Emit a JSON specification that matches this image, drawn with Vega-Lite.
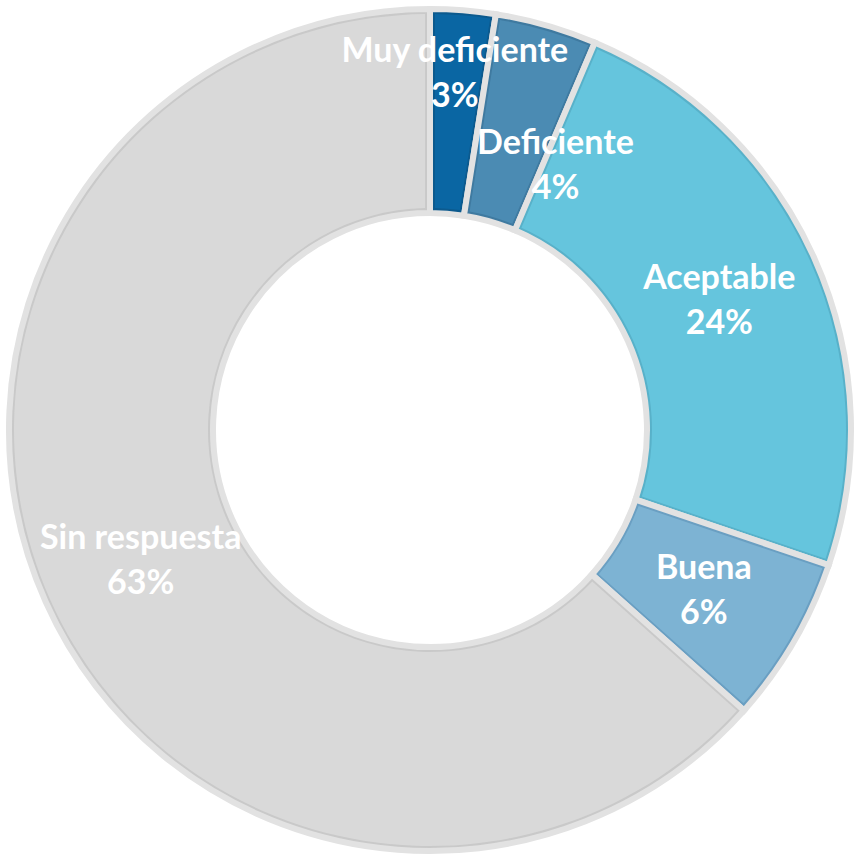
{
  "$schema": "https://vega.github.io/schema/vega-lite/v6.json",
  "width": 855,
  "height": 855,
  "autosize": {"type": "fit", "contains": "padding"},
  "padding": {"left": 5, "top": 5, "right": 0, "bottom": 0},
  "background": "white",
  "view": {"stroke": null},
  "data": {
    "values": [
      {"cat": "Muy deficiente", "pct": 2.5, "label": "Muy deficiente\n3%", "orden": 1},
      {"cat": "Deficiente", "pct": 3.9, "label": "Deficiente\n4%", "orden": 2},
      {"cat": "Aceptable", "pct": 23.8, "label": "Aceptable\n24%", "orden": 3},
      {"cat": "Buena", "pct": 6.4, "label": "Buena\n6%", "orden": 4},
      {"cat": "Sin respuesta", "pct": 63.4, "label": "Sin respuesta\n63%", "orden": 5}
    ]
  },
  "encoding": {
    "theta": {"field": "pct", "type": "quantitative", "stack": true},
    "order": {"field": "orden", "type": "quantitative"}
  },
  "resolve": {"scale": {"color": "independent"}},
  "layer": [
    {
      "mark": {"type": "arc", "outerRadius": 421, "innerRadius": 217, "stroke": "#e2e2e2", "strokeWidth": 6},
      "encoding": {
        "color": {
          "field": "cat", "type": "nominal", "legend": null,
          "scale": {
            "domain": ["Muy deficiente", "Deficiente", "Aceptable", "Buena", "Sin respuesta"],
            "range": ["#0c5a8e", "#3f7aa0", "#58b1c9", "#6a9fc2", "#c9c9c9"]
          }
        }
      }
    },
    {
      "mark": {"type": "arc", "outerRadius": 416, "innerRadius": 222, "padAngle": 0.021},
      "encoding": {
        "color": {
          "field": "cat", "type": "nominal", "legend": null,
          "scale": {
            "domain": ["Muy deficiente", "Deficiente", "Aceptable", "Buena", "Sin respuesta"],
            "range": ["#0a66a3", "#4b8bb3", "#65c5dd", "#7db3d3", "#d9d9d9"]
          }
        }
      }
    },
    {
      "mark": {"type": "text", "radius": 317, "dy": -21, "font": "Lato", "fontWeight": "bold", "fontSize": 34, "lineBreak": "\n", "lineHeight": 45, "color": "white", "align": "center", "baseline": "middle"},
      "encoding": {
        "text": {"condition": {"test": "datum.orden >= 3", "field": "label"}, "value": ""}
      }
    },
    {
      "mark": {"type": "text", "radius": 317, "dy": -62, "font": "Lato", "fontWeight": "bold", "fontSize": 34, "lineBreak": "\n", "lineHeight": 45, "color": "white", "align": "center", "baseline": "middle"},
      "encoding": {
        "text": {"condition": {"test": "datum.orden == 1", "field": "label"}, "value": ""}
      }
    },
    {
      "mark": {"type": "text", "radius": 317, "dx": 38, "dy": 19, "font": "Lato", "fontWeight": "bold", "fontSize": 34, "lineBreak": "\n", "lineHeight": 45, "color": "white", "align": "center", "baseline": "middle"},
      "encoding": {
        "text": {"condition": {"test": "datum.orden == 2", "field": "label"}, "value": ""}
      }
    }
  ]
}
